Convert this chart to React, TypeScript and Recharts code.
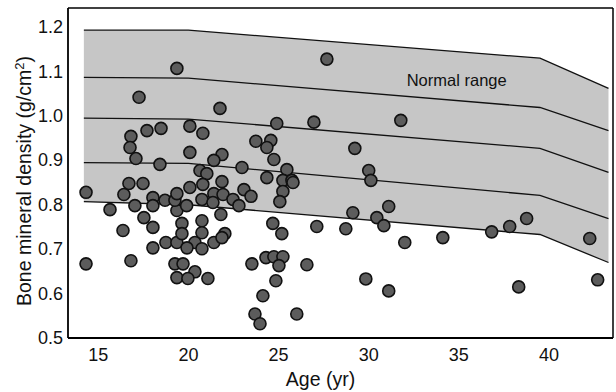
import { ComposedChart, Area, Line, Scatter, XAxis, YAxis, ReferenceLine, ReferenceDot } from 'recharts'

// normal range band, lines from top (upper limit) to bottom (lower limit)
const BAND_AGE = [14.2, 20, 39.5, 43.3]
const BAND_L1 = [1.193, 1.193, 1.13, 1.062]
const BAND_L2 = [1.087, 1.085, 1.019, 0.967]
const BAND_L3 = [0.995, 0.993, 0.927, 0.873]
const BAND_L4 = [0.895, 0.893, 0.821, 0.769]
const BAND_L5 = [0.807, 0.8, 0.733, 0.67]

const PT_AGE = [
  14.32, 14.32, 15.65, 16.37, 16.81, 16.42, 17.03, 17.53, 18.03, 18.03,
  18.03, 18.03, 18.7, 18.75, 19.36, 19.25, 19.36, 19.36, 19.64, 19.25,
  19.64, 19.36, 17.26, 16.81, 16.76, 17.7, 18.48, 17.09, 18.42, 16.7,
  17.48, 19.36, 21.75, 20.08, 20.8, 24.9, 23.74, 24.57, 24.35, 20.08,
  21.86, 21.41, 22.97, 24.74, 25.46, 20.64, 21.02, 24.35, 25.24, 25.74,
  21.86, 20.8, 20.08, 23.08, 25.24, 23.47, 21.41, 21.92, 20.75, 21.36,
  22.47, 22.8, 25.07, 19.9, 20.75, 21.8, 24.68, 25.18, 20.75, 22.02,
  21.41, 20.36, 19.92, 20.75, 21.86, 19.7, 20.36, 19.97, 21.08, 23.52,
  24.3, 24.74, 25.24, 25.02, 24.85, 24.13, 23.69, 23.97, 26.01, 26.96,
  31.78, 29.23, 25.8, 30.0, 30.12, 31.11, 29.12, 30.45, 30.84, 27.12,
  28.73, 32.0, 34.11, 26.57, 29.84, 31.11, 36.82, 37.82, 38.76, 42.26,
  38.32, 42.7, 27.68,
]
const PT_BMD = [
  0.828, 0.667, 0.789, 0.742, 0.674, 0.823, 0.798, 0.771, 0.749, 0.703,
  0.816, 0.798, 0.81, 0.715, 0.715, 0.667, 0.636, 0.787, 0.758, 0.81,
  0.735, 1.107, 1.042, 0.954, 0.929, 0.967, 0.972, 0.904, 0.891, 0.848,
  0.848, 0.825, 1.017, 0.977, 0.961, 0.983, 0.943, 0.945, 0.929, 0.918,
  0.913, 0.9, 0.884, 0.902, 0.879, 0.877, 0.87, 0.861, 0.855, 0.855,
  0.852, 0.846, 0.839, 0.834, 0.83, 0.819, 0.825, 0.823, 0.812, 0.805,
  0.812, 0.798, 0.807, 0.798, 0.764, 0.778, 0.758, 0.735, 0.737, 0.735,
  0.715, 0.715, 0.703, 0.701, 0.726, 0.667, 0.649, 0.634, 0.634, 0.667,
  0.681, 0.683, 0.683, 0.663, 0.629, 0.595, 0.554, 0.532, 0.554, 0.986,
  0.99, 0.927, 0.85, 0.877, 0.855, 0.796, 0.782, 0.771, 0.753, 0.751,
  0.746, 0.715, 0.726, 0.665, 0.633, 0.606, 0.739, 0.751, 0.769, 0.724,
  0.615, 0.631, 1.128,
]

const X_TICKS = [15, 20, 25, 30, 35, 40]
const Y_TICKS = [0.5, 0.6, 0.7, 0.8, 0.9, 1.0, 1.1, 1.2]
const X_MIN = 13.32
const X_MAX = 43.55
const Y_MIN = 0.5
const Y_MAX = 1.243

const FONT = '"Liberation Sans", Arial, sans-serif'

const band = BAND_AGE.map((age, i) => ({
  age,
  l1: BAND_L1[i],
  l2: BAND_L2[i],
  l3: BAND_L3[i],
  l4: BAND_L4[i],
  l5: BAND_L5[i],
  range: [BAND_L5[i], BAND_L1[i]],
}))

const points = PT_AGE.map((age, i) => ({ age, bmd: PT_BMD[i] }))

function XTick({ x, y, payload }: any) {
  return (
    <text x={x} y={y + 23} textAnchor="middle" fontSize={18} fontFamily={FONT} fill="#111">
      {payload.value}
    </text>
  )
}

function YTick({ x, y, payload }: any) {
  return (
    <text x={x - 5} y={y} dy={6} textAnchor="end" fontSize={18} fontFamily={FONT} fill="#111">
      {Number(payload.value).toFixed(1)}
    </text>
  )
}

function Dot({ cx, cy }: any) {
  return <circle cx={cx} cy={cy} r={6} fill="#5c5c5c" stroke="#111" strokeWidth={1.6} />
}

export default function App() {
  return (
    <div style={{ width: 616, height: 392, background: '#fff' }}>
      <style>{'body{margin:0}'}</style>
      <ComposedChart
        width={616}
        height={392}
        data={band}
        margin={{ top: 8, right: 3, bottom: 0, left: 0 }}
      >
        <Area
          dataKey="range"
          type="linear"
          stroke="none"
          fill="#c6c6c6"
          fillOpacity={1}
          isAnimationActive={false}
        />
        {['l1', 'l2', 'l3', 'l4', 'l5'].map((k) => (
          <Line
            key={k}
            dataKey={k}
            type="linear"
            stroke="#111"
            strokeWidth={1.3}
            dot={false}
            activeDot={false}
            isAnimationActive={false}
          />
        ))}
        <XAxis
          dataKey="age"
          type="number"
          domain={[X_MIN, X_MAX]}
          ticks={X_TICKS}
          allowDataOverflow
          height={54}
          tickSize={0}
          tickMargin={0}
          tickLine={false}
          axisLine={{ stroke: '#000', strokeWidth: 1.8 }}
          tick={<XTick />}
          label={{
            content: ({ viewBox }: any) => (
              <text
                x={viewBox.x + viewBox.width / 2 - 20}
                y={viewBox.y + 48}
                textAnchor="middle"
                fontSize={19.5}
                fontFamily={FONT}
                fill="#111"
              >
                Age (yr)
              </text>
            ),
          }}
        />
        {/* inward tick marks */}
        <XAxis
          xAxisId="in"
          type="number"
          domain={[X_MIN, X_MAX]}
          ticks={X_TICKS}
          allowDataOverflow
          mirror
          height={0}
          tickSize={13}
          tick={false}
          axisLine={false}
          tickLine={{ stroke: '#000', strokeWidth: 1.5 }}
        />
        <YAxis
          type="number"
          domain={[Y_MIN, Y_MAX]}
          ticks={Y_TICKS}
          allowDataOverflow
          width={68}
          tickSize={0}
          tickMargin={0}
          tickLine={false}
          axisLine={{ stroke: '#000', strokeWidth: 1.8 }}
          tick={<YTick />}
          label={{
            content: ({ viewBox }: any) => {
              const cx = 31
              const cy = viewBox.y + viewBox.height / 2 + 8
              return (
                <text
                  x={cx}
                  y={cy}
                  transform={`rotate(-90 ${cx} ${cy})`}
                  textAnchor="middle"
                  fontSize={19.5}
                  fontFamily={FONT}
                  fill="#111"
                >
                  Bone mineral density (g/cm
                  <tspan dy={-7} fontSize={13}>2</tspan>
                  <tspan dy={7}>)</tspan>
                </text>
              )
            },
          }}
        />
        <YAxis
          yAxisId="in"
          type="number"
          domain={[Y_MIN, Y_MAX]}
          ticks={Y_TICKS}
          allowDataOverflow
          mirror
          width={0}
          tickSize={5}
          tick={false}
          axisLine={false}
          tickLine={{ stroke: '#000', strokeWidth: 1.5 }}
        />
        <ReferenceLine y={Y_MAX} stroke="#000" strokeWidth={1.5} />
        <ReferenceLine x={X_MAX} stroke="#000" strokeWidth={1.5} />
        <Scatter data={points} dataKey="bmd" shape={<Dot />} isAnimationActive={false} />
        <ReferenceDot
          x={34.88}
          y={1.08}
          r={0}
          stroke="none"
          label={{ value: 'Normal range', fontSize: 16.5, fontFamily: FONT, fill: '#111', position: 'center' }}
        />
      </ComposedChart>
    </div>
  )
}
